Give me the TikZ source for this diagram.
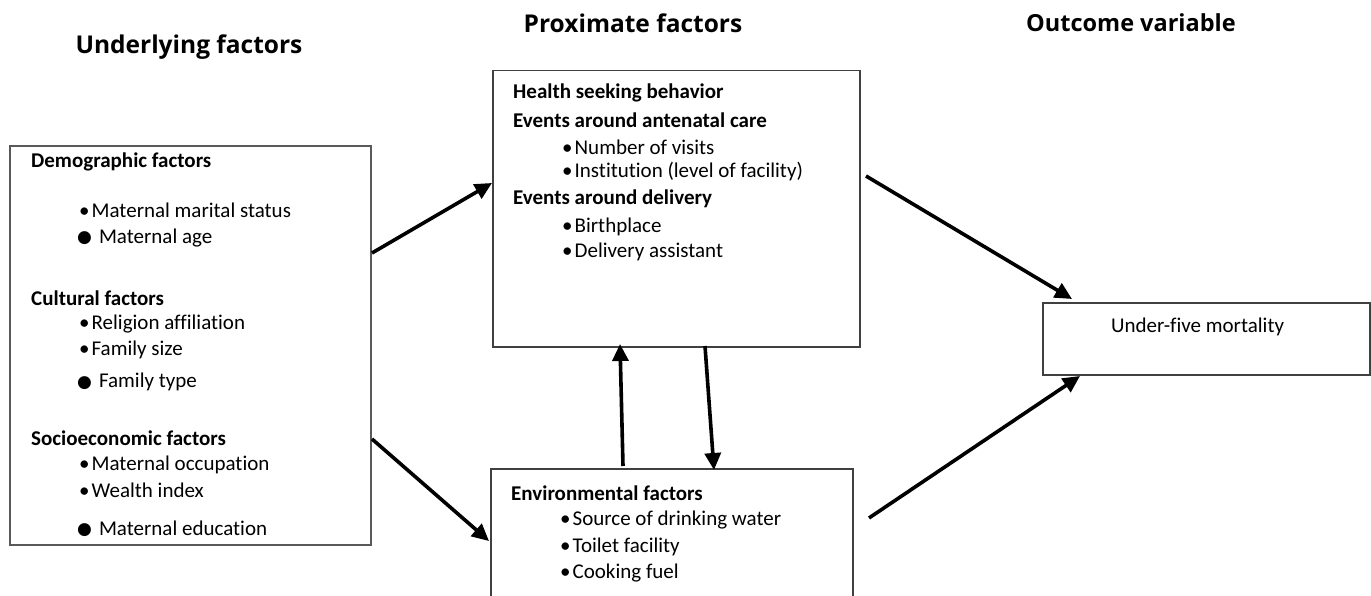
\documentclass[tikz,border=0pt]{standalone}
\usepackage{fontspec}
\setmainfont{Carlito}[Ligatures=NoCommon]
\newfontfamily\headfont{Open Sans}
\newfontfamily\dejavu{DejaVu Sans}
\usetikzlibrary{arrows.meta}
\begin{document}
\begin{tikzpicture}[x=1pt,y=-1pt,
  box/.style={draw=black!75,line width=1.5pt,inner sep=0pt},
  head/.style={font=\headfont\bfseries\fontsize{24.5}{28}\selectfont,inner sep=0pt},
  txt/.style={font=\fontsize{21}{24}\selectfont,anchor=west,inner sep=0pt},
  btxt/.style={font=\bfseries\fontsize{21}{24}\selectfont,anchor=west,inner sep=0pt},
  arr/.style={line width=3.6pt,-{Triangle[length=17pt,width=16pt]}}]
\newcommand\bigbul{\raisebox{0.5pt}{\dejavu\fontsize{17}{17}\selectfont ●}\hspace{7pt}}
\newcommand\smbul{\textbullet\hspace{2pt}}
\useasboundingbox[fill=white] (0,0) rectangle (1371,596);
% headers
\node[head] (h1) at (189,47) {Underlying factors};
\node[head] (h2) at (633,23) {Proximate factors};
\node[head,font=\headfont\bfseries\fontsize{23.5}{28}\selectfont] (h3) at (1131,23) {Outcome variable};
% boxes
\node[box,line width=1.8pt,draw=black!65,minimum width=361pt,minimum height=399pt,anchor=north west] (left) at (9,145) {};
\node[box,minimum width=367pt,minimum height=276pt,anchor=north west] (mid) at (492,70) {};
\node[box,minimum width=362pt,minimum height=150pt,anchor=north west] (env) at (490,468) {};
\node[box,minimum width=327pt,minimum height=72pt,anchor=north west] (out) at (1042,302) {};
% left box text
\node[btxt] (d0) at (31,162) {Demographic factors};
\node[txt] (d1) at (79,210) {\smbul Maternal marital status};
\node[txt] (d2) at (77,238) {\bigbul Maternal age};
\node[btxt] (c0) at (31,298) {Cultural factors};
\node[txt] (c1) at (79,324) {\smbul Religion affiliation};
\node[txt] (c2) at (79,350) {\smbul Family size};
\node[txt] (c3) at (77,382) {\bigbul Family type};
\node[btxt] (s0) at (31,438) {Socioeconomic factors};
\node[txt] (s1) at (79,465) {\smbul Maternal occupation};
\node[txt] (s2) at (79,490) {\smbul Wealth index};
\begin{scope}
\clip (9,500) rectangle (370,536);
\node[txt] (s3) at (77,529) {\bigbul Maternal education};
\end{scope}
% middle box text
\node[btxt] (m0) at (513,93) {Health seeking behavior};
\node[btxt] (m1) at (513,120) {Events around antenatal care};
\node[txt] (m2) at (562,147) {\smbul Number of visits};
\node[txt] (m3) at (562,172) {\smbul Institution (level of facility)};
\node[btxt] (m4) at (513,199) {Events around delivery};
\node[txt] (m5) at (562,227) {\smbul Birthplace};
\node[txt] (m6) at (562,252) {\smbul Delivery assistant};
% env box text
\node[btxt] (e0) at (511,493) {Environmental factors};
\node[txt] (e1) at (560,520) {\smbul Source of drinking water};
\node[txt] (e2) at (560,547) {\smbul Toilet facility};
\node[txt] (e3) at (560,573) {\smbul Cooking fuel};
% outcome text
\node[txt] (o0) at (1111,327) {Under-five mortality};
% arrow end points
\coordinate (a1s) at (372,253); \coordinate (a1e) at (492,183);
\coordinate (a2s) at (372,439); \coordinate (a2e) at (489,541);
\coordinate (a3s) at (623,466); \coordinate (a3e) at (620,344);
\coordinate (a4s) at (705,346); \coordinate (a4e) at (714,470);
\coordinate (a5s) at (866,176); \coordinate (a5e) at (1072,299);
\coordinate (a6s) at (869,518); \coordinate (a6e) at (1080,376);
\draw[arr] (a1s) -- (a1e);
\draw[arr] (a2s) -- (a2e);
\draw[arr] (a3s) -- (a3e);
\draw[arr] (a4s) -- (a4e);
\draw[arr] (a5s) -- (a5e);
\draw[arr] (a6s) -- (a6e);
\end{tikzpicture}
\end{document}
